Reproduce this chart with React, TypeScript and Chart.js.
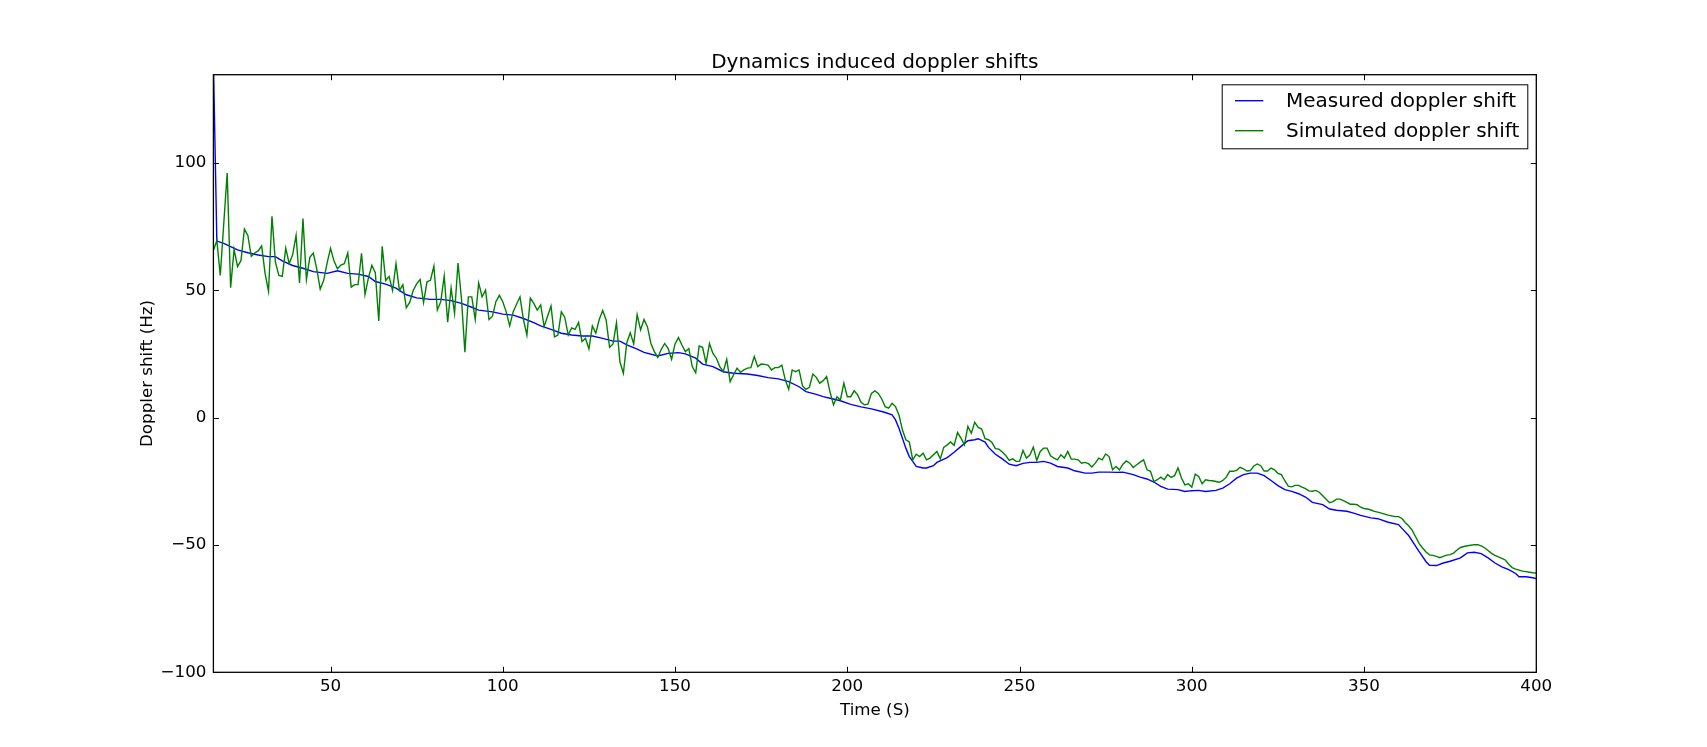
import { useEffect, useRef } from 'react';
import { Chart, registerables } from 'chart.js';

Chart.register(...registerables);

const FONT = '"DejaVu Sans", sans-serif';

const TITLE = 'Dynamics induced doppler shifts';
const X_LABEL = 'Time (S)';
const Y_LABEL = 'Doppler shift (Hz)';

const X_MIN = 16;
const X_MAX = 400;
const Y_MIN = -100;
const Y_MAX = 134.6;

const xTickValues = [50, 100, 150, 200, 250, 300, 350, 400];
const yTickValues = [-100, -50, 0, 50, 100];

// measured doppler shift (smooth), read at irregular times
const measuredTimes = [
  16, 17, 19, 23, 26, 29, 32, 34, 36, 39, 42, 45, 49, 52, 55, 58, 61, 63, 66, 69,
  72, 75, 79, 82, 85, 88, 91, 93, 97, 100, 103, 106, 109, 111, 114, 117, 120, 123, 126, 129,
  132, 134, 136, 139, 141, 145, 148, 151, 153, 156, 158, 161, 164, 167, 171, 174, 177, 180, 183, 186,
  188, 191, 193, 195, 198, 201, 204, 207, 210, 211, 213, 214, 215, 216, 217, 218, 219, 220, 222, 223,
  225, 226, 229, 231, 233, 235, 237, 238, 240, 241, 243, 245, 247, 249, 251, 253, 255, 257, 259, 261,
  264, 266, 269, 271, 273, 276, 278, 280, 283, 285, 287, 289, 291, 293, 296, 298, 300, 302, 304, 307,
  309, 311, 313, 315, 317, 319, 321, 323, 325, 327, 329, 331, 333, 335, 338, 340, 342, 345, 347, 349,
  352, 354, 357, 360, 361, 363, 365, 366, 368, 369, 371, 373, 375, 378, 380, 382, 384, 386, 388, 390,
  392, 394, 395, 397, 399, 400,
];
const measuredShift = [
  140, 69.3, 68.4, 65.8, 64.7, 63.8, 63.2, 63.2, 61.5, 59.7, 58.6, 57.3, 56.6, 57.6, 56.6, 56.3, 55.4, 53.4, 52.4, 50.8,
  48.2, 47.0, 46.4, 46.4, 45.9, 44.8, 43.3, 42.2, 41.5, 40.6, 40.2, 38.9, 37.3, 36.0, 34.6, 33.1, 32.4, 32.0, 32.0, 31.1,
  30.0, 30.0, 28.5, 26.9, 25.6, 24.2, 25.2, 25.5, 25.0, 23.3, 21.0, 20.0, 18.0, 17.4, 17.1, 16.5, 15.7, 15.2, 14.1, 12.1,
  10.2, 9.1, 8.2, 7.6, 6.6, 5.2, 4.2, 3.4, 2.4, 2.0, 1.1, -0.9, -4.2, -8.1, -12.0, -15.3, -17.2, -19.2, -19.8, -19.8,
  -18.9, -17.6, -15.7, -13.6, -11.3, -9.1, -8.7, -8.3, -9.6, -11.7, -14.4, -16.2, -18.3, -18.9, -18.0, -17.6, -17.6, -17.2, -17.9, -19.2,
  -19.8, -20.9, -21.8, -21.8, -21.4, -21.4, -21.5, -21.4, -22.4, -23.4, -24.1, -25.3, -27.0, -28.1, -28.3, -29.0, -28.7, -28.6, -29.0, -28.6,
  -27.7, -26.0, -23.8, -22.4, -21.8, -21.8, -22.8, -24.7, -26.7, -28.3, -29.0, -29.9, -31.2, -33.3, -34.2, -35.9, -36.4, -36.8, -37.5, -38.4,
  -39.4, -39.7, -41.1, -42.0, -43.5, -46.4, -50.6, -52.6, -56.6, -58.0, -58.1, -57.1, -56.4, -55.1, -53.1, -52.9, -53.4, -55.1, -57.1, -58.6,
  -59.7, -61.2, -62.5, -62.5, -62.9, -63.2,
];

// simulated doppler shift, one value per second starting at t = 16 s
const SIM_START = 16;
const simulatedShift = [
  65.6, 69.5, 55.8, 76, 96, 51, 66, 59.3, 61.6, 74, 71.5, 63.3, 64.6, 65.4, 67.4, 56.6, 49.6, 79, 61, 55.8,
  55.4, 66.5, 60.4, 63.9, 71.5, 52.8, 78.1, 54.2, 62.9, 64.6, 58.4, 50.4, 53.8, 60.6, 66.4, 61.6, 58.4, 59.9, 60.4, 64.6,
  51.2, 52.2, 52.2, 64.5, 48.3, 54.8, 59.8, 56.9, 37.9, 67.2, 53.8, 55.4, 49.9, 60.4, 49.9, 52.1, 43.1, 45.3, 49.9, 52.5,
  54.2, 45.2, 53.3, 53.9, 59.4, 42.2, 45.5, 55.6, 37.4, 50.9, 40.9, 60.7, 46.8, 25.7, 47.4, 47.4, 38.5, 52.9, 47.4, 50.0,
  38.5, 39.8, 45.5, 48.0, 45.5, 41.5, 36.0, 41.5, 44.5, 47.4, 38.5, 32.4, 46.9, 44.8, 42.2, 44.2, 35.7, 39.8, 43.8, 31.7,
  32.4, 41.5, 39.3, 32.4, 35.2, 34.6, 37.3, 29.8, 31.1, 26.9, 36.0, 33.1, 38.5, 42.0, 38.3, 27.6, 28.9, 37.2, 21.9, 17.4,
  29.4, 33.3, 28.9, 40.4, 34.4, 38.5, 35.6, 29.1, 25.9, 23.6, 26.8, 29.1, 27.1, 22.9, 28.9, 31.4, 28.5, 25.9, 27.1, 20.0,
  17.6, 28.1, 27.6, 21.3, 29.1, 25.2, 23.3, 20.0, 18.0, 22.9, 14.1, 16.8, 19.4, 17.8, 18.7, 19.4, 19.6, 24.0, 20.0, 21.0,
  20.9, 20.6, 18.7, 19.6, 19.6, 20.6, 14.8, 11.1, 18.7, 18.0, 18.7, 12.4, 11.1, 11.9, 17.1, 15.8, 13.5, 14.5, 16.1, 10,
  5.0, 8.2, 6.9, 13.5, 8.2, 8.2, 10.5, 8.9, 6.0, 5.0, 5.3, 9.5, 10.5, 9.5, 7.3, 4.3, 3.7, 5.6, 4.3, 1.0,
  -4.8, -8.7, -9.6, -16.6, -14.4, -15.3, -14.0, -16.6, -15.9, -14.6, -13.3, -16.2, -11.7, -10.7, -9.6, -10.9, -5.9, -8.1, -10.7, -3.5,
  -6.1, -1.9, -3.9, -4.5, -8.3, -8.7, -9.8, -12.2, -12.4, -13.5, -14.9, -16.8, -16.2, -17.2, -17.2, -12.9, -15.9, -14.7, -11.6, -16.8,
  -13.3, -12.0, -12.0, -15.0, -15.9, -16.6, -14.6, -15.9, -13.3, -16.3, -16.3, -16.6, -17.9, -17.6, -18.1, -19.4, -17.9, -15.9, -16.6, -14.3,
  -15.3, -20.5, -19.2, -20.5, -18.3, -17.0, -17.9, -19.6, -18.5, -17.5, -16.6, -20.5, -21.1, -25.1, -24.4, -23.4, -24.4, -22.4, -23.5, -22.8,
  -19.8, -23.7, -26.4, -26.0, -27.3, -22.2, -23.1, -26.0, -24.4, -24.7, -24.8, -25.1, -25.4, -24.7, -23.4, -21.1, -21.1, -20.7, -19.5, -20.1,
  -21.0, -20.8, -19.0, -18.2, -18.9, -21.0, -21.0, -19.8, -20.5, -21.9, -22.4, -24.8, -26.9, -27.2, -26.6, -26.6, -27.3, -27.9, -28.8, -28.9,
  -28.6, -29.3, -30.7, -32.1, -33.4, -33.0, -32.0, -32.0, -32.6, -33.3, -34.0, -34.0, -34.2, -35.2, -35.7, -35.9, -36.3, -36.8, -37.1, -37.5,
  -37.9, -38.3, -38.6, -38.9, -38.9, -39.6, -41.3, -42.6, -44.3, -46.9, -49.5, -51.2, -52.8, -53.9, -54.1, -54.5, -55.0, -54.5, -54.0, -53.8,
  -53.2, -52.0, -51.0, -50.6, -50.3, -50.1, -49.9, -49.9, -50.4, -51.1, -52.2, -53.3, -54.1, -54.7, -55.3, -55.9, -57.6, -58.9, -59.5, -59.9,
  -60.3, -60.5, -60.7, -60.9, -61.0,
];

const seriesNames = ['Measured doppler shift', 'Simulated doppler shift'];
const seriesColors = ['#0000ff', '#008000'];

// axes box in canvas pixels (matplotlib default subplot margins)
const BOX_LEFT = 213.4;
const BOX_TOP = 74.7;
const BOX_RIGHT_PAD = 170.7;
const BOX_BOTTOM_PAD = 74.7;

const fmt = (v: number) => (v < 0 ? '\u2212' + Math.abs(v) : String(v));

const mplDecor = {
  id: 'mplDecor',
  afterDraw(chart: any) {
    const { ctx, chartArea: a, scales } = chart;
    ctx.save();

    // inward tick marks on all four spines
    ctx.strokeStyle = '#000';
    ctx.lineWidth = 1;
    const seg = (x1: number, y1: number, x2: number, y2: number) => {
      ctx.beginPath();
      ctx.moveTo(x1, y1);
      ctx.lineTo(x2, y2);
      ctx.stroke();
    };
    scales.x.ticks.forEach((t: any) => {
      const px = Math.round(scales.x.getPixelForValue(t.value)) + 0.5;
      seg(px, a.bottom, px, a.bottom - 5.5);
      seg(px, a.top, px, a.top + 5.5);
    });
    scales.y.ticks.forEach((t: any) => {
      const py = Math.round(scales.y.getPixelForValue(t.value)) + 0.5;
      seg(a.left, py, a.left + 5.5, py);
      seg(a.right, py, a.right - 5.5, py);
    });

    // frame
    ctx.lineWidth = 1.3;
    ctx.strokeRect(a.left, a.top, a.right - a.left, a.bottom - a.top);

    ctx.fillStyle = '#000';
    // title
    ctx.font = `20px ${FONT}`;
    ctx.textAlign = 'center';
    ctx.textBaseline = 'alphabetic';
    ctx.fillText(TITLE, (a.left + a.right) / 2, a.top - 6.5);

    // axis labels
    ctx.font = `16.7px ${FONT}`;
    ctx.textBaseline = 'middle';
    ctx.fillText(X_LABEL, (a.left + a.right) / 2, 711);
    ctx.save();
    ctx.translate(148, (a.top + a.bottom) / 2);
    ctx.rotate(-Math.PI / 2);
    ctx.fillText(Y_LABEL, 0, 0);
    ctx.restore();

    // legend box
    const lx = 1221.7;
    const ly = 84.3;
    const lw = 305.6;
    const lh = 64;
    ctx.fillStyle = '#fff';
    ctx.fillRect(lx, ly, lw, lh);
    ctx.lineWidth = 1;
    ctx.strokeStyle = '#000';
    ctx.strokeRect(lx + 0.5, ly + 0.5, lw, lh);
    ctx.font = `20px ${FONT}`;
    ctx.textAlign = 'left';
    ctx.textBaseline = 'middle';
    chart.data.datasets.forEach((ds: any, i: number) => {
      const y = ly + 16.4 + i * 30;
      ctx.strokeStyle = ds.borderColor;
      ctx.lineWidth = 1.4;
      seg(lx + 13.3, y, lx + 41.6, y);
      ctx.fillStyle = '#000';
      ctx.fillText(ds.label, lx + 64.3, y + 1);
    });

    ctx.restore();
  },
};

export default function App() {
  const chartRef = useRef<HTMLCanvasElement>(null);
  const chartInstance = useRef<Chart | null>(null);

  useEffect(() => {
    if (!chartRef.current) return;
    if (chartInstance.current) chartInstance.current.destroy();
    const ctx = chartRef.current.getContext('2d');
    if (!ctx) return;

    const tickFont = { family: FONT, size: 16.7 };

    chartInstance.current = new Chart(ctx, {
      type: 'line',
      data: {
        datasets: [
          {
            label: seriesNames[0],
            data: measuredTimes.map((t, i) => ({ x: t, y: measuredShift[i] })),
            borderColor: seriesColors[0],
            borderWidth: 1.4,
            pointRadius: 0,
            tension: 0,
            fill: false,
            order: 1,
          },
          {
            label: seriesNames[1],
            data: simulatedShift.map((v, i) => ({ x: SIM_START + i, y: v })),
            borderColor: seriesColors[1],
            borderWidth: 1.4,
            pointRadius: 0,
            tension: 0,
            fill: false,
            order: 0,
          },
        ],
      },
      options: {
        animation: false,
        responsive: true,
        maintainAspectRatio: false,
        events: [],
        layout: {
          padding: { left: 0, top: BOX_TOP, right: BOX_RIGHT_PAD, bottom: 0 },
        },
        plugins: {
          legend: { display: false },
          title: { display: false },
          tooltip: { enabled: false },
        },
        scales: {
          x: {
            type: 'linear',
            min: X_MIN,
            max: X_MAX,
            grid: { display: false, drawTicks: false },
            border: { display: false },
            afterBuildTicks: (scale: any) => {
              scale.ticks = xTickValues.map((v) => ({ value: v }));
            },
            afterFit: (scale: any) => {
              scale.height = BOX_BOTTOM_PAD;
            },
            ticks: {
              font: tickFont,
              color: '#000',
              padding: 4,
              maxRotation: 0,
              autoSkip: false,
              callback: (v: any) => fmt(Number(v)),
            },
          },
          y: {
            type: 'linear',
            min: Y_MIN,
            max: Y_MAX,
            grid: { display: false, drawTicks: false },
            border: { display: false },
            afterBuildTicks: (scale: any) => {
              scale.ticks = yTickValues.map((v) => ({ value: v }));
            },
            afterFit: (scale: any) => {
              scale.width = BOX_LEFT;
            },
            ticks: {
              font: tickFont,
              color: '#000',
              padding: 7,
              autoSkip: false,
              callback: (v: any) => fmt(Number(v)),
            },
          },
        },
      },
      plugins: [mplDecor],
    });

    return () => {
      if (chartInstance.current) {
        chartInstance.current.destroy();
        chartInstance.current = null;
      }
    };
  }, []);

  return (
    <div
      style={{
        position: 'absolute',
        left: 0,
        top: 0,
        width: 1707,
        height: 747,
        background: '#fff',
      }}
    >
      <canvas ref={chartRef} style={{ display: 'block' }}></canvas>
    </div>
  );
}
